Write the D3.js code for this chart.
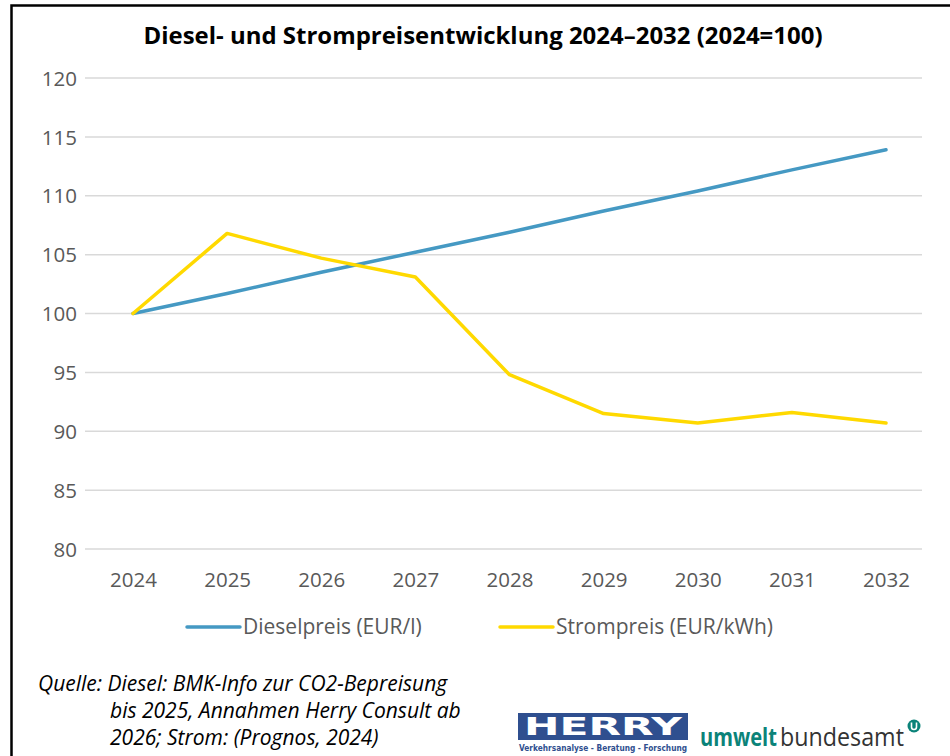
<!DOCTYPE html>
<html>
<head>
<meta charset="utf-8">
<script src="https://cdn.jsdelivr.net/npm/d3@7"></script>
<style>
  html, body { margin: 0; padding: 0; background: #fff; }
  svg { display: block; font-family: "Open Sans", "Noto Sans", sans-serif; }
</style>
</head>
<body>
<script>
// Diesel- und Strompreise, Index 2024 = 100
const years = ["2024", "2025", "2026", "2027", "2028", "2029", "2030", "2031", "2032"];
const diesel = [100, 101.7, 103.5, 105.2, 106.9, 108.7, 110.4, 112.2, 113.9];
const strom = [100, 106.8, 104.7, 103.1, 94.8, 91.5, 90.7, 91.6, 90.7];
const yTicks = [80, 85, 90, 95, 100, 105, 110, 115, 120];
const seriesNames = ["Dieselpreis (EUR/l)", "Strompreis (EUR/kWh)"];
const sourceLines = [
  "Quelle: Diesel: BMK-Info zur CO2-Bepreisung",
  "bis 2025, Annahmen Herry Consult ab",
  "2026; Strom: (Prognos, 2024)"
];

const W = 950, H = 756;
const plot = { left: 85, right: 922, top: 78, bottom: 549 };
const colors = ["#4599c3", "#ffd900"];

const svg = d3.select("body").append("svg")
  .attr("width", W)
  .attr("height", H);

// frame (top + left only)
svg.append("path")
  .attr("d", `M11.5,${H} V5.5 H${W}`)
  .attr("fill", "none")
  .attr("stroke", "#000")
  .attr("stroke-width", 2.5);

// title
svg.append("text")
  .attr("x", 483)
  .attr("y", 44)
  .attr("text-anchor", "middle")
  .attr("font-size", 23)
  .attr("font-weight", 700)
  .attr("fill", "#000")
  .attr("textLength", 679)
  .attr("lengthAdjust", "spacingAndGlyphs")
  .text("Diesel- und Strompreisentwicklung 2024–2032 (2024=100)");

// scales
const x = d3.scalePoint()
  .domain(years)
  .range([133, 886]);

const y = d3.scaleLinear()
  .domain([80, 120])
  .range([plot.bottom, plot.top]);

// gridlines
svg.append("g")
  .selectAll("line")
  .data(yTicks)
  .join("line")
  .attr("x1", plot.left)
  .attr("x2", plot.right)
  .attr("y1", d => y(d))
  .attr("y2", d => y(d))
  .attr("stroke", "#d9d9d9")
  .attr("stroke-width", 1.5);

// y axis labels
const yAxis = svg.append("g")
  .attr("transform", "translate(77,0)")
  .call(d3.axisLeft(y).tickValues(yTicks).tickSize(0).tickPadding(0));
yAxis.select(".domain").remove();
yAxis.selectAll("text")
  .attr("font-family", "Open Sans, sans-serif")
  .attr("font-size", 20.5)
  .attr("fill", "#595959")
  .attr("dy", "0.35em");

// x axis labels
const xAxis = svg.append("g")
  .attr("transform", `translate(0,${plot.bottom + 23})`)
  .call(d3.axisBottom(x).tickSize(0).tickPadding(0));
xAxis.select(".domain").remove();
xAxis.selectAll("text")
  .attr("font-family", "Open Sans, sans-serif")
  .attr("font-size", 20.5)
  .attr("fill", "#595959")
  .attr("dy", "0.71em");

// lines
const line = d3.line()
  .x((d, i) => x(years[i]))
  .y(d => y(d));

[diesel, strom].forEach((s, k) => {
  svg.append("path")
    .datum(s)
    .attr("fill", "none")
    .attr("stroke", colors[k])
    .attr("stroke-width", 3.5)
    .attr("stroke-linejoin", "round")
    .attr("stroke-linecap", "round")
    .attr("d", line);
});

// legend
const legendX = [187, 500];
const legend = svg.append("g").attr("transform", "translate(0,627)");
seriesNames.forEach((name, k) => {
  legend.append("line")
    .attr("x1", legendX[k])
    .attr("x2", legendX[k] + 53)
    .attr("stroke", colors[k])
    .attr("stroke-width", 3.5)
    .attr("stroke-linecap", "round");
  legend.append("text")
    .attr("x", legendX[k] + 56)
    .attr("dy", "0.35em")
    .attr("font-size", 21)
    .attr("fill", "#595959")
    .text(name);
});

// source
const src = svg.append("g")
  .attr("font-size", 21)
  .attr("font-style", "italic")
  .attr("fill", "#000");
sourceLines.forEach((t, i) => {
  src.append("text")
    .attr("x", i === 0 ? 38 : 110)
    .attr("y", 691 + i * 27)
    .text(t);
});

// HERRY logo
const herry = svg.append("g");
herry.append("rect")
  .attr("x", 518).attr("y", 713)
  .attr("width", 170).attr("height", 27)
  .attr("fill", "#2f4f8f");
herry.append("text")
  .attr("x", 603).attr("y", 735)
  .attr("text-anchor", "middle")
  .attr("font-family", "DejaVu Sans, sans-serif")
  .attr("font-size", 24)
  .attr("font-weight", 700)
  .attr("fill", "#fff")
  .attr("textLength", 158)
  .attr("lengthAdjust", "spacingAndGlyphs")
  .text("HERRY");
herry.append("text")
  .attr("x", 603).attr("y", 751)
  .attr("text-anchor", "middle")
  .attr("font-family", "DejaVu Sans, sans-serif")
  .attr("font-size", 8)
  .attr("font-weight", 700)
  .attr("fill", "#2f4f8f")
  .attr("textLength", 168)
  .attr("lengthAdjust", "spacingAndGlyphs")
  .text("Verkehrsanalyse - Beratung - Forschung");

// umweltbundesamt logo: squeeze each word to its width in the picture
function squeezed(txt, x0, width, weight, fill) {
  const t = svg.append("text")
    .attr("font-size", 25)
    .attr("font-weight", weight)
    .attr("fill", fill)
    .text(txt);
  const natural = t.node().getComputedTextLength();
  t.attr("transform", `translate(${x0},746) scale(${width / natural},1)`);
}
squeezed("umwelt", 700, 77, 700, "#0b8379");
squeezed("bundesamt", 780, 124, 400, "#333");

svg.append("circle")
  .attr("cx", 914).attr("cy", 726).attr("r", 6.5)
  .attr("fill", "#0b8379");
svg.append("path")
  .attr("d", "M911.5,722.5 V727 a2.5,2.5 0 0 0 5,0 V722.5")
  .attr("fill", "none")
  .attr("stroke", "#fff")
  .attr("stroke-width", 1.6);
</script>
</body>
</html>
